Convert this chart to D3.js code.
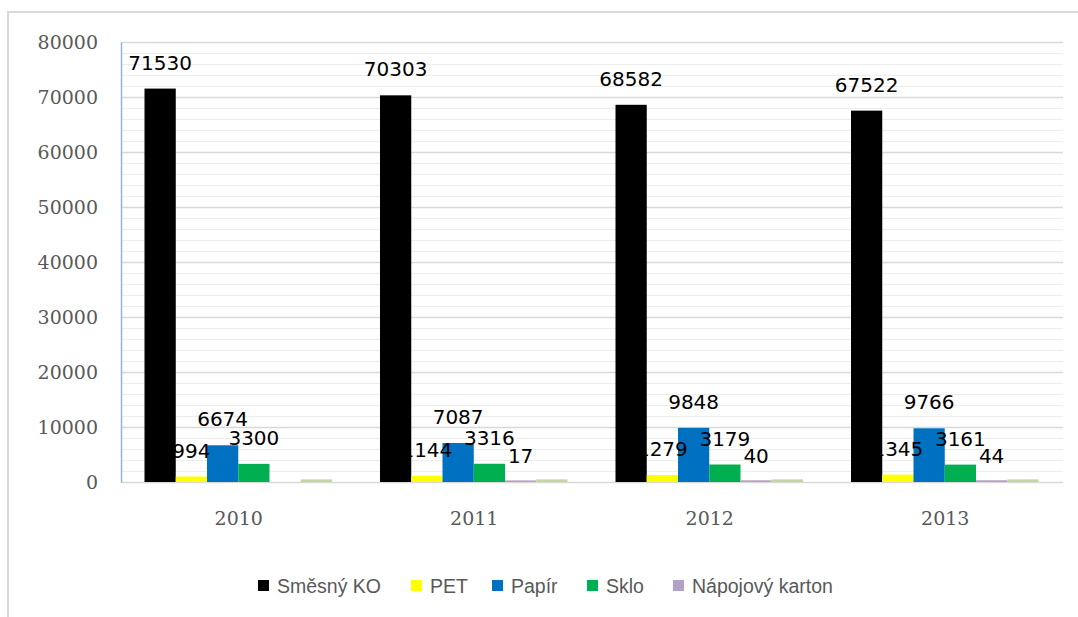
<!DOCTYPE html>
<html><head><meta charset="utf-8">
<script src="https://cdn.jsdelivr.net/npm/d3@7/dist/d3.min.js"></script>
<style>body{margin:0;background:#fff;}svg{display:block;}</style>
</head><body>
<svg id="c" width="1078" height="617"></svg>
<script>
const categories = ["2010", "2011", "2012", "2013"];
const seriesNames = ["Směsný KO", "PET", "Papír", "Sklo", "Nápojový karton", ""];
const smesnyKO = [71530, 70303, 68582, 67522];
const pet = [994, 1144, 1279, 1345];
const papir = [6674, 7087, 9848, 9766];
const sklo = [3300, 3316, 3179, 3161];
const napojovyKarton = [null, 17, 40, 44];
const unnamed = [200, 200, 200, 200];
const seriesColors = ["#000000", "#ffff00", "#0070c0", "#00b050", "#b3a2c7", "#c3d69b"];
const yTicks = [0, 10000, 20000, 30000, 40000, 50000, 60000, 70000, 80000];
const labelled = [true, true, true, true, true, false];

const seriesValues = [smesnyKO, pet, papir, sklo, napojovyKarton, unnamed];

const svg = d3.select("#c");
const L = 121, R = 1063, T = 42, B = 482;

// outer chart border
svg.append("rect").attr("x", 8).attr("y", 12).attr("width", 1100).attr("height", 640)
  .attr("fill", "none").attr("stroke", "#d9d9d9").attr("stroke-width", 2);

const y = d3.scaleLinear().domain([0, 80000]).range([B, T]);
const x0 = d3.scaleBand().domain(categories).range([L, R]).padding(0);
const x1 = d3.scaleBand().domain(d3.range(seriesNames.length))
  .range([23.5, x0.bandwidth() - 24.5]).padding(0);

// minor grid
const minor = d3.range(2000, 80001, 2000).filter(v => v % 10000 !== 0);
svg.append("g").selectAll("line").data(minor).join("line")
  .attr("x1", L).attr("x2", R).attr("y1", d => Math.round(y(d)) + 0.5).attr("y2", d => Math.round(y(d)) + 0.5)
  .attr("stroke", "#ededed").attr("stroke-width", 1);
// major grid
svg.append("g").selectAll("line").data(yTicks.filter(v => v > 0)).join("line")
  .attr("x1", L).attr("x2", R).attr("y1", d => Math.round(y(d)) + 0.5).attr("y2", d => Math.round(y(d)) + 0.5)
  .attr("stroke", "#d9d9d9").attr("stroke-width", 1.5);

// x axis baseline
svg.append("line").attr("x1", L).attr("x2", R).attr("y1", B + 0.5).attr("y2", B + 0.5)
  .attr("stroke", "#d9d9d9").attr("stroke-width", 1.5);

// y axis
const yAxis = svg.append("g").attr("transform", `translate(${L},0)`)
  .call(d3.axisLeft(y).tickValues(yTicks).tickSize(0).tickPadding(23).tickFormat(d3.format("d")));
yAxis.select(".domain").attr("stroke", "#8eb4e3").attr("stroke-width", 1.5);
yAxis.selectAll("text").attr("font-family", "DejaVu Serif").attr("font-size", 19).attr("fill", "#595959");

// bars
const data = [];
categories.forEach((c, ci) => seriesValues.forEach((vals, si) => {
  if (vals[ci] !== null) data.push({c, si, v: vals[ci]});
}));
svg.append("g").selectAll("rect").data(data).join("rect")
  .attr("x", d => x0(d.c) + x1(d.si))
  .attr("width", x1.bandwidth())
  .attr("y", d => y(d.v) - (d.si >= 4 ? 1.5 : 0))
  .attr("height", d => B - y(d.v) + (d.si >= 4 ? 1.5 : 0))
  .attr("fill", d => seriesColors[d.si]);

const xAxis = svg.append("g").attr("transform", `translate(0,${B})`)
  .call(d3.axisBottom(x0).tickSize(0).tickPadding(30));
xAxis.select(".domain").remove();
xAxis.selectAll("text").attr("font-family", "DejaVu Serif").attr("font-size", 19).attr("fill", "#595959");

// data labels
svg.append("g").selectAll("text").data(data.filter(d => labelled[d.si])).join("text")
  .attr("x", d => x0(d.c) + x1(d.si) + x1.bandwidth() / 2)
  .attr("y", d => y(d.v) - 19)
  .attr("text-anchor", "middle")
  .attr("font-family", "DejaVu Sans").attr("font-size", 20).attr("fill", "#000")
  .text(d => d.v);

// legend
const legendStarts = [258, 411, 492, 587, 673];
const lg = svg.append("g");
seriesNames.slice(0, 5).forEach((n, i) => {
  const g = lg.append("g").attr("transform", `translate(${legendStarts[i]},586)`);
  g.append("rect").attr("x", 0).attr("y", -6).attr("width", 11).attr("height", 11).attr("fill", seriesColors[i]);
  g.append("text").attr("x", 19).attr("y", 7).attr("font-family", "Liberation Sans")
    .attr("font-size", 19.5).attr("fill", "#595959").text(n);
});
</script>
</body></html>
